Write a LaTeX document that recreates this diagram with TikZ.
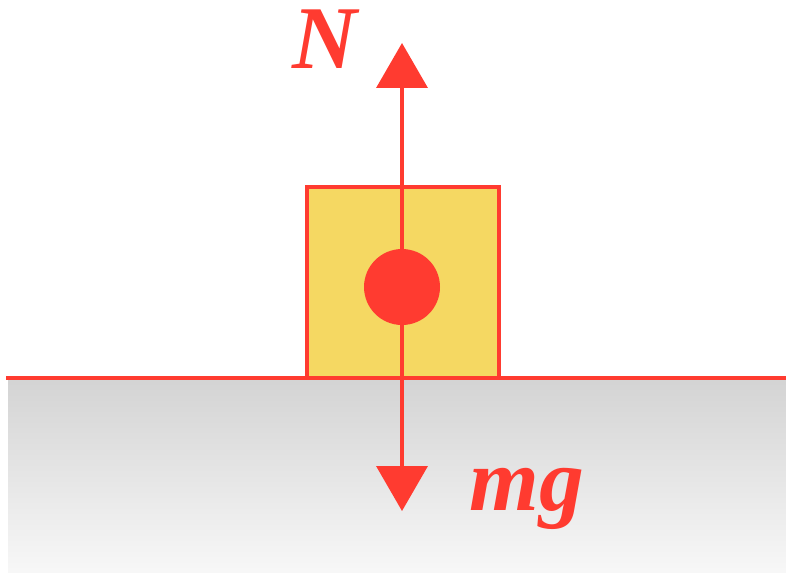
\documentclass[tikz,border=0pt]{standalone}
\usepackage{fontspec}
\setmainfont{Liberation Serif}
\usetikzlibrary{arrows.meta}
\definecolor{forcered}{HTML}{FF3B30}
\definecolor{blockyellow}{HTML}{F5D862}

\begin{document}
\begin{tikzpicture}[x=0.02cm, y=-0.02cm,
  force/.style={draw=forcered, line width=2.1pt, -{Triangle[width=1.02cm,length=0.9cm]}},
  forcelabel/.style={text=forcered, inner sep=0pt, font=\fontsize{51}{51}\selectfont\bfseries\itshape}]
\useasboundingbox (0,0) rectangle (786,572);
% ground
\shade[top color=gray!34, bottom color=gray!6] (8,380) rectangle (786,572);
\coordinate (gl) at (6,378);
\coordinate (gr) at (786,378);
\draw[forcered, line width=2.4pt] (gl) -- (gr);
% block and centre of mass
\node (block) [draw=forcered, fill=blockyellow, line width=2.1pt, inner sep=0pt,
  minimum width=3.84cm, minimum height=3.82cm] at (403,282.5) {};
\coordinate (Ntip) at (402,43);
\coordinate (mgtip) at (402,511);
\draw[force] (402,378) -- (Ntip);
\draw[force] (402,287) -- (mgtip);
\node (cm) [circle, fill=forcered, inner sep=0pt, minimum size=1.52cm] at (402,287) {};
% labels
\node (N) [forcelabel, anchor=base] at (325,68) {N};
\node (mg) [forcelabel, anchor=base] at (527,510) {mg};
\end{tikzpicture}
\end{document}
